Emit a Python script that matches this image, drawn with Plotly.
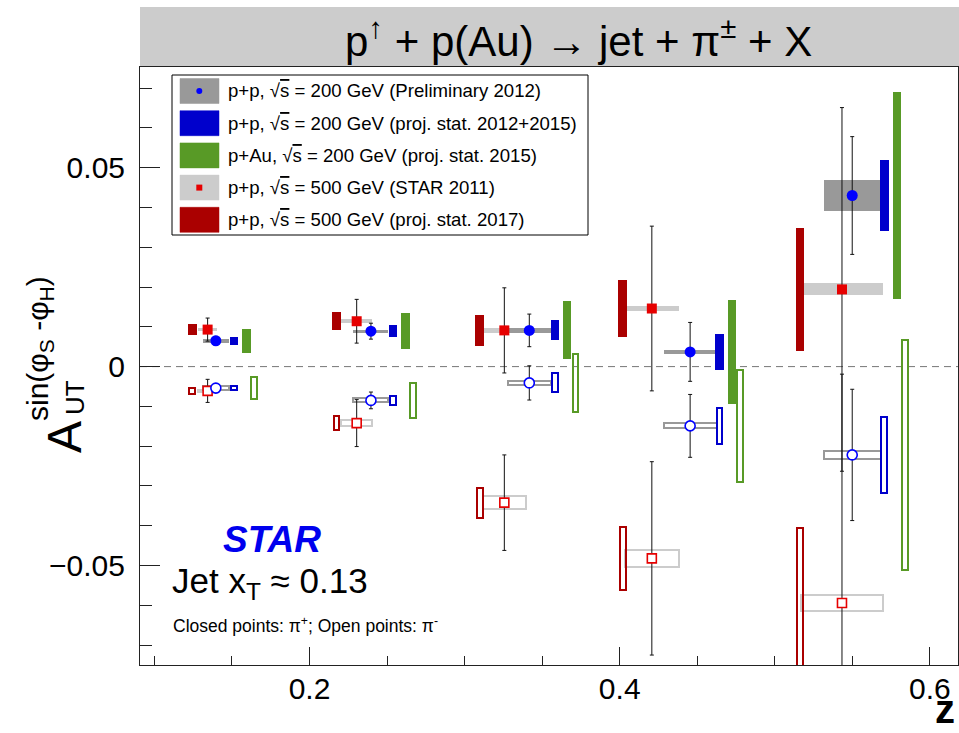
import plotly.graph_objects as go

# ---------------- data ----------------
# STAR 2011, p+p at sqrt(s)=500 GeV: red squares with light-gray systematic boxes
z_star = [0.1343, 0.2304, 0.3256, 0.4207, 0.5433]
dz_star = [0.0061, 0.0099, 0.0140, 0.0172, 0.0265]      # half-width of systematic box in z
a_star_pos = [0.0093, 0.0114, 0.0091, 0.0146, 0.0194]   # pi+
e_star_pos = [0.0029, 0.0055, 0.0107, 0.0207, 0.0457]
s_star_pos = [0.0004, 0.0005, 0.0006, 0.0006, 0.0015]
a_star_neg = [-0.0061, -0.0142, -0.0342, -0.0482, -0.0594]  # pi-
e_star_neg = [0.0029, 0.0059, 0.0120, 0.0243, 0.0575]
s_star_neg = [0.0003, 0.0007, 0.0016, 0.0021, 0.0021]

# Preliminary 2012, p+p at sqrt(s)=200 GeV: blue circles with dark-gray systematic boxes
z_prel = [0.1396, 0.2396, 0.3417, 0.4454, 0.5499]
dz_prel = [0.0084, 0.0113, 0.0138, 0.0171, 0.0185]
a_prel_pos = [0.0065, 0.0089, 0.0091, 0.0037, 0.0430]
e_prel_pos = [0.0011, 0.0020, 0.0041, 0.0074, 0.0148]
s_prel_pos = [0.0005, 0.0004, 0.0006, 0.0005, 0.0039]
a_prel_neg = [-0.0054, -0.0085, -0.0041, -0.0149, -0.0222]
e_prel_neg = [0.0011, 0.0021, 0.0043, 0.0079, 0.0165]
s_prel_neg = [0.0004, 0.0005, 0.0004, 0.0006, 0.0010]

# Projected statistical uncertainties (bars centred on the measured points)
z_proj_500 = [0.1245, 0.2174, 0.3097, 0.4019, 0.5164]       # p+p 500 GeV, 2017
p500_pos = [0.0013, 0.0022, 0.0039, 0.0072, 0.0155]
p500_neg = [0.0008, 0.0018, 0.0038, 0.0080, 0.0189]
z_proj_200 = [0.1514, 0.2540, 0.3583, 0.4643, 0.5706]       # p+p 200 GeV, 2012+2015
p200_pos = [0.0010, 0.0015, 0.0025, 0.0045, 0.0089]
p200_neg = [0.0006, 0.0012, 0.0024, 0.0045, 0.0095]
z_proj_pau_pos = [0.1593, 0.2619, 0.3662, 0.4723, 0.5789]   # p+Au 200 GeV, 2015
z_proj_pau_neg = [0.1643, 0.2669, 0.3715, 0.4774, 0.5839]
pau_pos = [0.0030, 0.0045, 0.0073, 0.0131, 0.0261]
pau_neg = [0.0028, 0.0044, 0.0073, 0.0140, 0.0289]

legend_labels = [
    "p+p, √<span style='text-decoration:overline'>s</span> = 200 GeV (Preliminary 2012)",
    "p+p, √<span style='text-decoration:overline'>s</span> = 200 GeV (proj. stat. 2012+2015)",
    "p+Au, √<span style='text-decoration:overline'>s</span> = 200 GeV (proj. stat. 2015)",
    "p+p, √<span style='text-decoration:overline'>s</span> = 500 GeV (STAR 2011)",
    "p+p, √<span style='text-decoration:overline'>s</span> = 500 GeV (proj. stat. 2017)",
]

# ---------------- style ----------------
RED = "#e60000"
BLUE = "#0000ff"
DARKGRAY = "#999999"
LIGHTGRAY = "#cccccc"
PBLUE = "#0000cc"
GREEN = "#589a26"
DARKRED = "#aa0000"
FONT = "Liberation Sans, Arial, sans-serif"

W, H = 959, 733
ML, MR, MT, MB = 140, 1, 67, 68
PW, PH = W - ML - MR, H - MT - MB


def px(x):
    return (x - ML) / PW


def py(y):
    return (H - MB - y) / PH


def boxes(xc, half_w, yc, half_h, color, open_box=False):
    if not isinstance(half_w, list):
        half_w = [half_w] * len(xc)
    return go.Bar(
        x=xc,
        base=[c - h for c, h in zip(yc, half_h)],
        y=[2 * h for h in half_h],
        width=[2 * w for w in half_w],
        marker=dict(
            color="rgba(0,0,0,0)" if open_box else color,
            line=dict(color=color, width=2 if open_box else 0),
        ),
        showlegend=False,
        hoverinfo="skip",
    )


def points(x, y, err, symbol, size, color, open_marker=False):
    if open_marker:
        marker = dict(symbol=symbol, size=size, color="white", line=dict(color=color, width=1.6))
    else:
        marker = dict(symbol=symbol, size=size, color=color, line=dict(width=0))
    return go.Scatter(
        x=x, y=y, mode="markers", marker=marker,
        error_y=dict(type="data", array=err, visible=True, color="#111111", thickness=1, width=2),
        showlegend=False, hoverinfo="skip",
    )


fig = go.Figure()

# systematic boxes
fig.add_trace(boxes(z_star, dz_star, a_star_pos, s_star_pos, LIGHTGRAY))
fig.add_trace(boxes(z_star, dz_star, a_star_neg, s_star_neg, LIGHTGRAY, open_box=True))
fig.add_trace(boxes(z_prel, dz_prel, a_prel_pos, s_prel_pos, DARKGRAY))
fig.add_trace(boxes(z_prel, dz_prel, a_prel_neg, s_prel_neg, DARKGRAY, open_box=True))

# projected statistical uncertainties
BW_FILLED, BW_OPEN = 0.0027, 0.0019
fig.add_trace(boxes(z_proj_500, BW_FILLED, a_star_pos, p500_pos, DARKRED))
fig.add_trace(boxes(z_proj_500, BW_OPEN, a_star_neg, p500_neg, DARKRED, open_box=True))
fig.add_trace(boxes(z_proj_200, BW_FILLED, a_prel_pos, p200_pos, PBLUE))
fig.add_trace(boxes(z_proj_200, BW_OPEN, a_prel_neg, p200_neg, PBLUE, open_box=True))
fig.add_trace(boxes(z_proj_pau_pos, BW_FILLED, a_prel_pos, pau_pos, GREEN))
fig.add_trace(boxes(z_proj_pau_neg, BW_OPEN, a_prel_neg, pau_neg, GREEN, open_box=True))

# measured points with statistical error bars
fig.add_trace(points(z_star, a_star_pos, e_star_pos, "square", 10, RED))
fig.add_trace(points(z_star, a_star_neg, e_star_neg, "square", 9, RED, open_marker=True))
fig.add_trace(points(z_prel, a_prel_pos, e_prel_pos, "circle", 11, BLUE))
fig.add_trace(points(z_prel, a_prel_neg, e_prel_neg, "circle", 10, BLUE, open_marker=True))

shapes = []
# dashed zero line
shapes.append(dict(type="line", xref="paper", yref="y", x0=0, x1=1, y0=0, y1=0,
                   line=dict(color="#777777", width=1, dash="7px,5px"), layer="below"))
# title band
shapes.append(dict(type="rect", xref="paper", yref="paper", x0=px(140), x1=px(959),
                   y0=py(66), y1=py(7), fillcolor="#cccccc", line=dict(width=0), layer="below"))

# legend frame and swatches
shapes.append(dict(type="rect", xref="paper", yref="paper", x0=px(172), x1=px(588),
                   y0=py(235), y1=py(75), fillcolor="white", line=dict(color="black", width=1)))
swatch_colors = [DARKGRAY, PBLUE, GREEN, LIGHTGRAY, DARKRED]
row_y = [91 + 32.2 * i for i in range(5)]
annotations = []
for col, yc, lab in zip(swatch_colors, row_y, legend_labels):
    shapes.append(dict(type="rect", xref="paper", yref="paper", x0=px(180), x1=px(219),
                       y0=py(yc + 12.5), y1=py(yc - 12.5), fillcolor=col,
                       line=dict(color=col, width=0.5)))
    annotations.append(dict(xref="paper", yref="paper", x=px(226), y=py(yc), text=lab,
                            showarrow=False, xanchor="left", yanchor="middle",
                            font=dict(family=FONT, size=18.6, color="black")))
shapes.append(dict(type="circle", xref="paper", yref="paper", x0=px(196.3), x1=px(202.3),
                   y0=py(row_y[0] + 3), y1=py(row_y[0] - 3), fillcolor=BLUE, line=dict(width=0)))
shapes.append(dict(type="rect", xref="paper", yref="paper", x0=px(196.3), x1=px(202.3),
                   y0=py(row_y[3] + 3), y1=py(row_y[3] - 3), fillcolor=RED, line=dict(width=0)))

# title
annotations.append(dict(xref="paper", yref="paper", x=px(578), y=py(38),
                        text="p<sup>↑</sup> + p(Au) → jet + π<sup>±</sup> + X",
                        showarrow=False, xanchor="center", yanchor="middle",
                        font=dict(family=FONT, size=42, color="black")))

# y-axis title pieces
annotations.append(dict(xref="paper", yref="paper", x=px(64), y=py(437), text="A",
                        textangle=-90, showarrow=False, xanchor="center", yanchor="middle",
                        font=dict(family=FONT, size=48, color="black")))
annotations.append(dict(xref="paper", yref="paper", x=px(75), y=py(398), text="UT",
                        textangle=-90, showarrow=False, xanchor="center", yanchor="middle",
                        font=dict(family=FONT, size=26, color="black")))
annotations.append(dict(xref="paper", yref="paper", x=px(39), y=py(349),
                        text="sin(φ<sub>S</sub> -φ<sub>H</sub>)",
                        textangle=-90, showarrow=False, xanchor="center", yanchor="middle",
                        font=dict(family=FONT, size=30, color="black")))

# x-axis title
annotations.append(dict(xref="paper", yref="paper", x=px(957), y=py(709), text="<b>z</b>",
                        showarrow=False, xanchor="right", yanchor="middle",
                        font=dict(family=FONT, size=40, color="black")))

# in-plot labels
annotations.append(dict(xref="paper", yref="paper", x=px(272), y=py(539), text="<b><i>STAR</i></b>",
                        showarrow=False, xanchor="center", yanchor="middle",
                        font=dict(family=FONT, size=37, color="#0000ee")))
annotations.append(dict(xref="paper", yref="paper", x=px(170), y=py(583),
                        text="Jet x<sub>T</sub> ≈ 0.13",
                        showarrow=False, xanchor="left", yanchor="middle",
                        font=dict(family=FONT, size=35, color="black")))
annotations.append(dict(xref="paper", yref="paper", x=px(171), y=py(625),
                        text="Closed points: π<sup>+</sup>; Open points: π<sup>-</sup>",
                        showarrow=False, xanchor="left", yanchor="middle",
                        font=dict(family=FONT, size=17.5, color="black")))

fig.update_layout(
    width=W, height=H,
    margin=dict(l=ML, r=MR, t=MT, b=MB, pad=0),
    paper_bgcolor="white", plot_bgcolor="white",
    barmode="overlay", bargap=0,
    showlegend=False,
    shapes=shapes,
    annotations=annotations,
    font=dict(family=FONT, color="black"),
    xaxis=dict(
        range=[0.0907, 0.6181], tick0=0, dtick=0.2, tickformat=".1f",
        ticks="inside", ticklen=18, tickwidth=1, tickcolor="#222222",
        minor=dict(dtick=0.05, tick0=0, ticks="inside", ticklen=9, tickwidth=1, tickcolor="#222222"),
        showline=True, linecolor="#222222", linewidth=1, mirror=True,
        showgrid=False, zeroline=False,
        tickfont=dict(family=FONT, size=30, color="black"),
        ticklabelstandoff=-3,
    ),
    yaxis=dict(
        range=[-0.0750, 0.0753], tick0=0, dtick=0.05,
        tickvals=[-0.05, 0, 0.05], ticktext=["−0.05", "0", "0.05"],
        ticks="inside", ticklen=20, tickwidth=1, tickcolor="#222222",
        minor=dict(dtick=0.01, tick0=0, ticks="inside", ticklen=12, tickwidth=1, tickcolor="#222222"),
        showline=True, linecolor="#222222", linewidth=1, mirror=True,
        showgrid=False, zeroline=False,
        tickfont=dict(family=FONT, size=30, color="black"),
        ticklabelstandoff=8,
    ),
)

fig.write_html("out.html")
